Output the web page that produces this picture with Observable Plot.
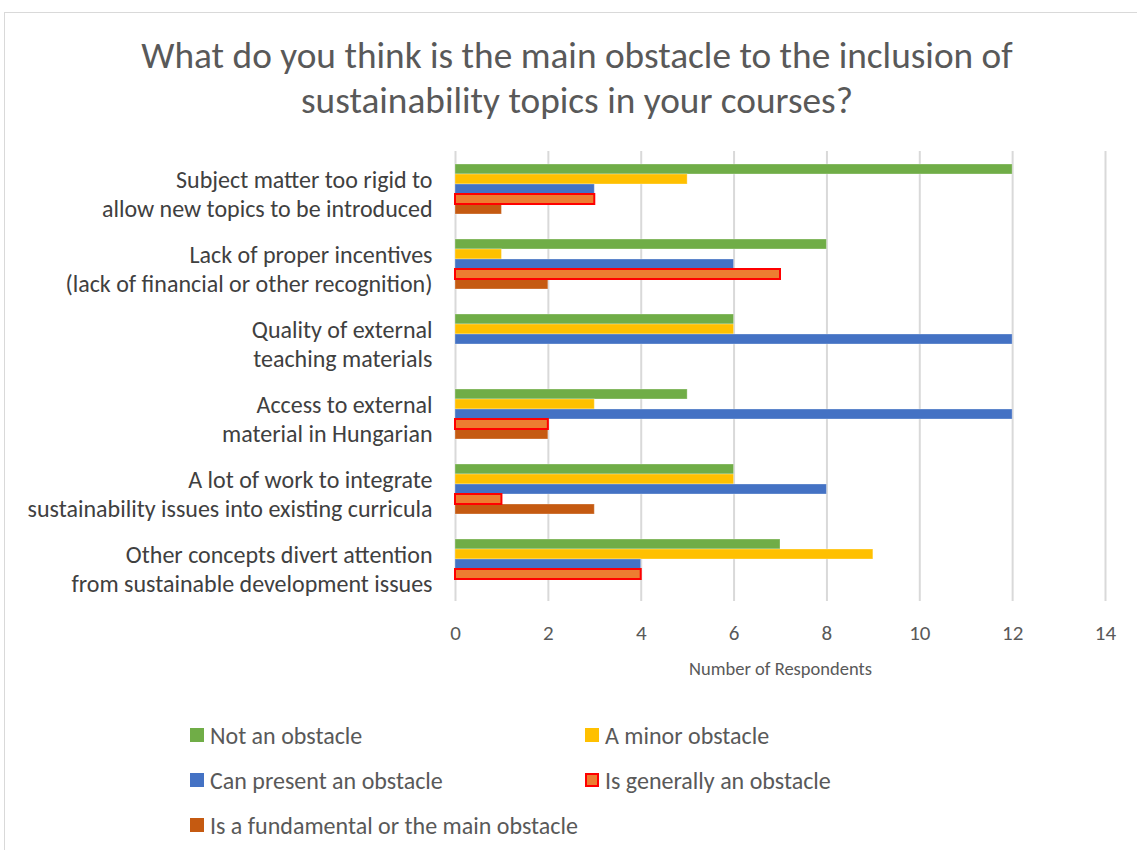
<!DOCTYPE html>
<html>
<head>
<meta charset="utf-8">
<script src="https://cdn.jsdelivr.net/npm/d3@7"></script>
<script src="https://cdn.jsdelivr.net/npm/@observablehq/plot@0.6"></script>
<style>
  html, body { margin: 0; padding: 0; background: #fff; overflow: hidden; }
  body { width: 1137px; height: 850px; position: relative; font-family: Carlito, Lato, "Open Sans", sans-serif; color: #595959; }
  #frame { position: absolute; left: 4px; top: 12px; width: 1200px; height: 900px; border: 1px solid #d9d9d9; box-sizing: border-box; }
  #title { position: absolute; left: 4px; width: 1146px; top: 33px; text-align: center; font-size: 37.3px; line-height: 45px; font-weight: 300; color: #595959; }
  #chart { position: absolute; left: 0; top: 0; }
  #legend { position: absolute; left: 190px; top: 715px; display: grid; grid-template-columns: 395px 400px; grid-auto-rows: 45px; font-size: 24px; color: #595959; }
  .item { display: flex; align-items: center; height: 40px; }
  .sw { width: 14px; height: 14px; margin-right: 6px; box-sizing: border-box; }
</style>
</head>
<body>
<div id="frame"></div>
<div id="title">What do you think is the main obstacle to the inclusion of<br>sustainability topics in your courses?</div>
<div id="chart"></div>
<div id="legend"></div>
<script>
const categories = [
  "Subject matter too rigid to\nallow new topics to be introduced",
  "Lack of proper incentives\n(lack of financial or other recognition)",
  "Quality of external\nteaching materials",
  "Access to external\nmaterial in Hungarian",
  "A lot of work to integrate\nsustainability issues into existing curricula",
  "Other concepts divert attention\nfrom sustainable development issues"
];
const series = [
  "Not an obstacle",
  "A minor obstacle",
  "Can present an obstacle",
  "Is generally an obstacle",
  "Is a fundamental or the main obstacle"
];
const colors = ["#70AD47", "#FFC000", "#4472C4", "#ED7D31", "#C55A11"];
const notAnObstacle = [12, 8, 6, 5, 6, 7];
const minorObstacle = [5, 1, 6, 3, 6, 9];
const canPresent = [3, 6, 12, 12, 8, 4];
const generallyObstacle = [3, 7, 0, 2, 1, 4];
const fundamentalObstacle = [1, 2, 0, 2, 3, 0];
const xTicks = [0, 2, 4, 6, 8, 10, 12, 14];

const valueArrays = [notAnObstacle, minorObstacle, canPresent, generallyObstacle, fundamentalObstacle];
const data = [];
categories.forEach((c, i) => {
  series.forEach((s, j) => data.push({category: c, series: s, value: valueArrays[j][i]}));
});
const highlighted = series[3];

const chart = Plot.plot({
  width: 1137,
  height: 700,
  marginTop: 151,
  marginBottom: 99,
  marginLeft: 455,
  marginRight: 32,
  style: {fontFamily: "Carlito, Lato, 'Open Sans', sans-serif", color: "#595959", background: "transparent"},
  x: {domain: [0, 14]},
  fy: {domain: categories, padding: 0, axis: null},
  y: {domain: series, axis: null, paddingInner: 0, paddingOuter: 1.1},
  color: {domain: series, range: colors},
  marks: [
    Plot.gridX(xTicks, {stroke: "#d9d9d9", strokeOpacity: 1, strokeWidth: 2}),
    Plot.barX(data, {filter: d => d.value > 0 && d.series !== highlighted, x: "value", y: "series", fy: "category", fill: "series", stroke: "white", strokeOpacity: 0.3, strokeWidth: 1}),
    Plot.barX(data, {filter: d => d.value > 0 && d.series === highlighted, x: "value", y: "series", fy: "category", fill: "series", stroke: "#FF0000", strokeWidth: 2}),
    Plot.axisFy({anchor: "left", tickSize: 0, tickPadding: 23, fontSize: 24, lineHeight: 1.22, dy: 4, label: null, fill: "#404040", textAnchor: "end"}),
    Plot.axisX(xTicks, {anchor: "bottom", tickSize: 0, tickPadding: 24, fontSize: 21, label: "Number of Respondents", labelAnchor: "center", labelArrow: "none", labelOffset: 73, fill: "#595959"})
  ]
});
document.getElementById("chart").appendChild(chart);
// axis label smaller than tick labels
chart.querySelectorAll("text").forEach(t => {
  if (t.textContent === "Number of Respondents") t.setAttribute("font-size", 18.5);
});

const legend = document.getElementById("legend");
series.forEach((s, j) => {
  const item = document.createElement("div");
  item.className = "item";
  const sw = document.createElement("span");
  sw.className = "sw";
  sw.style.background = colors[j];
  if (s === highlighted) sw.style.border = "2px solid #FF0000";
  const t = document.createElement("span");
  t.textContent = s;
  item.appendChild(sw);
  item.appendChild(t);
  legend.appendChild(item);
});
</script>
</body>
</html>
